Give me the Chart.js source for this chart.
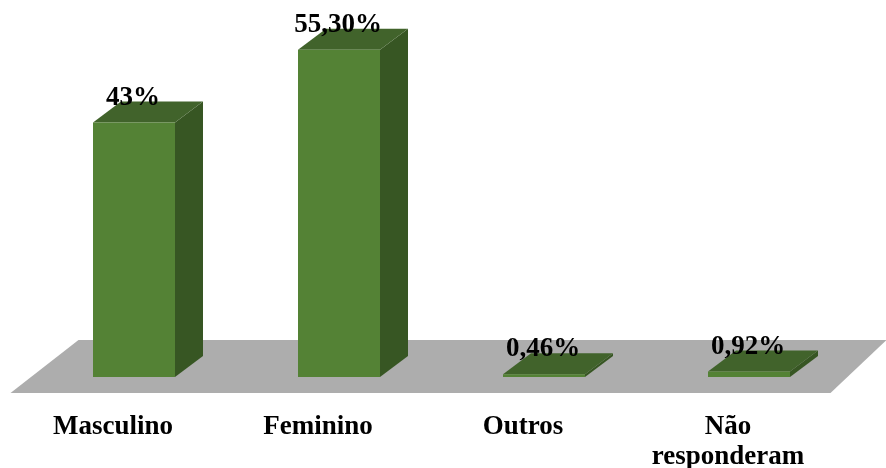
<!DOCTYPE html>
<html>
<head>
<meta charset="utf-8">
<style>
  html, body { margin: 0; padding: 0; background: #fff; }
  canvas { display: block; }
</style>
<script src="https://cdn.jsdelivr.net/npm/chart.js@4"></script>
</head>
<body>
<canvas id="genderChart" width="886" height="468"></canvas>
<script>
const categories = ["Masculino", "Feminino", "Outros", ["Não", "responderam"]];
const percentValues = [43, 55.3, 0.46, 0.92];
const valueLabels = ["43%", "55,30%", "0,46%", "0,92%"];

const depthX = 28;
const depthY = 21;
const labelFont = "bold 27px 'Liberation Serif', 'Times New Roman', serif";

// fake 3D: grey floor plus side and top faces behind each bar
const floorAndDepth = {
    id: "floorAndDepth",
    beforeDatasetsDraw(chart) {
        const ctx = chart.ctx;
        const area = chart.chartArea;
        ctx.save();

        ctx.fillStyle = "#adadad";
        ctx.beginPath();
        ctx.moveTo(area.left - 21, area.bottom + 16);
        ctx.lineTo(area.right - 21, area.bottom + 16);
        ctx.lineTo(area.right + 35, area.bottom - 37);
        ctx.lineTo(area.left + 47, area.bottom - 37);
        ctx.closePath();
        ctx.fill();

        chart.getDatasetMeta(0).data.forEach(function (bar) {
            const left = bar.x - bar.width / 2;
            const right = bar.x + bar.width / 2;

            ctx.fillStyle = "#375623";
            ctx.beginPath();
            ctx.moveTo(right, bar.y);
            ctx.lineTo(right + depthX, bar.y - depthY);
            ctx.lineTo(right + depthX, bar.base - depthY);
            ctx.lineTo(right, bar.base);
            ctx.closePath();
            ctx.fill();

            ctx.fillStyle = "#41632b";
            ctx.beginPath();
            ctx.moveTo(left, bar.y);
            ctx.lineTo(left + depthX, bar.y - depthY);
            ctx.lineTo(right + depthX, bar.y - depthY);
            ctx.lineTo(right, bar.y);
            ctx.closePath();
            ctx.fill();
        });
        ctx.restore();
    },
    afterDatasetsDraw(chart) {
        const ctx = chart.ctx;
        ctx.save();
        ctx.font = labelFont;
        ctx.fillStyle = "#000";
        ctx.textAlign = "center";
        ctx.textBaseline = "alphabetic";
        chart.getDatasetMeta(0).data.forEach(function (bar, i) {
            ctx.fillText(valueLabels[i], bar.x - 1, bar.y - 18);
        });
        ctx.restore();
    }
};

new Chart(document.getElementById("genderChart").getContext("2d"), {
    type: "bar",
    data: {
        labels: categories,
        datasets: [{
            data: percentValues,
            backgroundColor: "#548235",
            borderWidth: 0,
            barPercentage: 0.8,
            categoryPercentage: 0.5
        }]
    },
    options: {
        responsive: false,
        animation: false,
        layout: { padding: { left: 31.5, right: 34.5, top: 22, bottom: 0 } },
        plugins: {
            legend: { display: false },
            tooltip: { enabled: false }
        },
        scales: {
            x: {
                grid: { display: false },
                border: { display: false },
                afterFit(scale) { scale.height = 91; },
                ticks: {
                    color: "#000",
                    padding: 27,
                    labelOffset: -21,
                    autoSkip: false,
                    maxRotation: 0,
                    minRotation: 0,
                    font: { family: "'Liberation Serif', 'Times New Roman', serif", size: 27, weight: "bold", lineHeight: 1.1 }
                }
            },
            y: {
                display: false,
                min: 0,
                max: 60
            }
        }
    },
    plugins: [floorAndDepth]
});
</script>
</body>
</html>
